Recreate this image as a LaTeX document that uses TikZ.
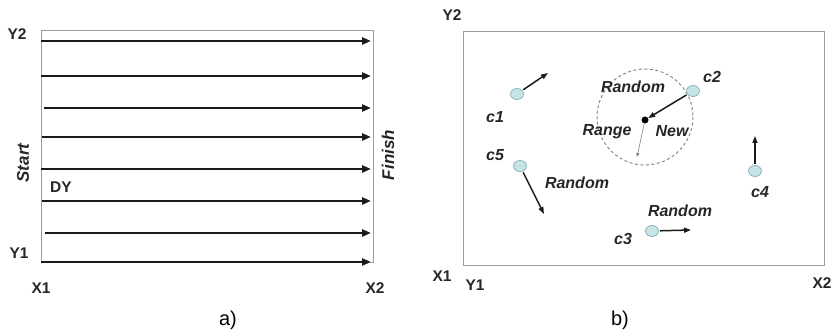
\documentclass[tikz,border=0pt]{standalone}
\usepackage{fontspec}
\setmainfont{Liberation Sans}
\usetikzlibrary{arrows.meta,shapes.geometric}
\definecolor{framegray}{HTML}{9C9C9C}
\definecolor{inkdark}{HTML}{1A1A1A}
\definecolor{textdark}{HTML}{262626}
\definecolor{cellfill}{HTML}{C6E4E6}
\definecolor{celledge}{HTML}{8AB4B8}
\definecolor{dashgray}{HTML}{8A8A8A}
\begin{document}
\begin{tikzpicture}[x=1pt,y=-1pt,
  lbl/.style={font=\fontsize{15.5}{15.5}\selectfont\bfseries, text=textdark, inner sep=0pt},
  ital/.style={font=\fontsize{16}{16}\selectfont\bfseries\itshape, text=textdark, inner sep=0pt},
  sideital/.style={font=\fontsize{17}{17}\selectfont\bfseries\itshape, text=textdark, inner sep=0pt, rotate=90},
  captext/.style={font=\fontsize{20}{20}\selectfont, text=black, inner sep=0pt},
  framebox/.style={draw=framegray, line width=1pt},
  sweep/.style={draw=inkdark, line width=2.2pt, -{Triangle[length=9pt,width=7pt]}},
  move/.style={draw=inkdark, line width=1.5pt, -{Triangle[length=7pt,width=5pt]}, shorten <=1pt},
  thinmove/.style={draw=gray, line width=0.6pt, -{Triangle[length=4pt,width=3pt]}},
  cell/.style={ellipse, draw=celledge, fill=cellfill, line width=0.8pt, minimum width=13pt, minimum height=11pt, inner sep=0pt},
  newdot/.style={circle, fill=black, minimum size=7pt, inner sep=0pt}
]
\useasboundingbox (0,0) rectangle (833,336);

% ---------- panel a ----------
\draw[framebox] (41,31) rectangle (373,263);
\foreach \i/\xs/\yy in {1/41/41, 2/41/76, 3/44/108, 4/42/137, 5/41/169, 6/42/201, 7/45/233, 8/41/262} {
  \coordinate (as\i) at (\xs,\yy);
  \coordinate (ae\i) at (371,\yy);
  \draw[sweep] (as\i) -- (ae\i);
}
\node[lbl] (aY2) at (17,34) {Y2};
\node[lbl] (aY1) at (19,253) {Y1};
\node[lbl] (aX1) at (41,288) {X1};
\node[lbl] (aX2) at (375,288) {X2};
\node[lbl] (aDY) at (61,187) {DY};
\node[sideital] (start) at (23,163) {Start};
\node[sideital] (finish) at (388,155) {Finish};
\node[captext] (capa) at (228,320) {a)};

% ---------- panel b ----------
\draw[framebox] (463,32) rectangle (824,266);
\node[lbl] (bY2) at (452,15) {Y2};
\node[lbl] (bX1) at (442,276) {X1};
\node[lbl] (bY1) at (475,285) {Y1};
\node[lbl] (bX2) at (822,283) {X2};
\node[captext] (capb) at (620,320) {b)};

\draw[dashgray, line width=1pt, dash pattern=on 3pt off 2.5pt] (645,117) circle (48);

\node[cell] (c1) at (517,94) {};
\node[cell] (c2) at (693,91) {};
\node[cell] (c3) at (652,231) {};
\node[cell] (c4) at (755,171) {};
\node[cell] (c5) at (520,166) {};
\node[newdot] (new) at (645,120) {};

\coordinate (t1) at (548,73);
\coordinate (t3) at (691,230);
\coordinate (t4) at (755,136);
\coordinate (t5) at (544,214);
\coordinate (tr) at (637,157);

\draw[move] (c1) -- (t1);
\draw[move] (c2) -- (new);
\draw[move] (c3) -- (t3);
\draw[move] (c4) -- (t4);
\draw[move] (c5) -- (t5);
\draw[thinmove] (new) -- (tr);

\node[ital] (l1) at (495,117) {c1};
\node[ital] (l2) at (712,77) {c2};
\node[ital] (l3) at (623,239) {c3};
\node[ital] (l4) at (760,192) {c4};
\node[ital] (l5) at (495,155) {c5};

\node[ital] (rnd1) at (633,87) {Random};
\node[ital] (rng) at (607,132) {Range};
\node[ital] (nw) at (672,131) {New};
\node[ital] (rnd2) at (577,183) {Random};
\node[ital] (rnd3) at (680,211) {Random};
\end{tikzpicture}
\end{document}
